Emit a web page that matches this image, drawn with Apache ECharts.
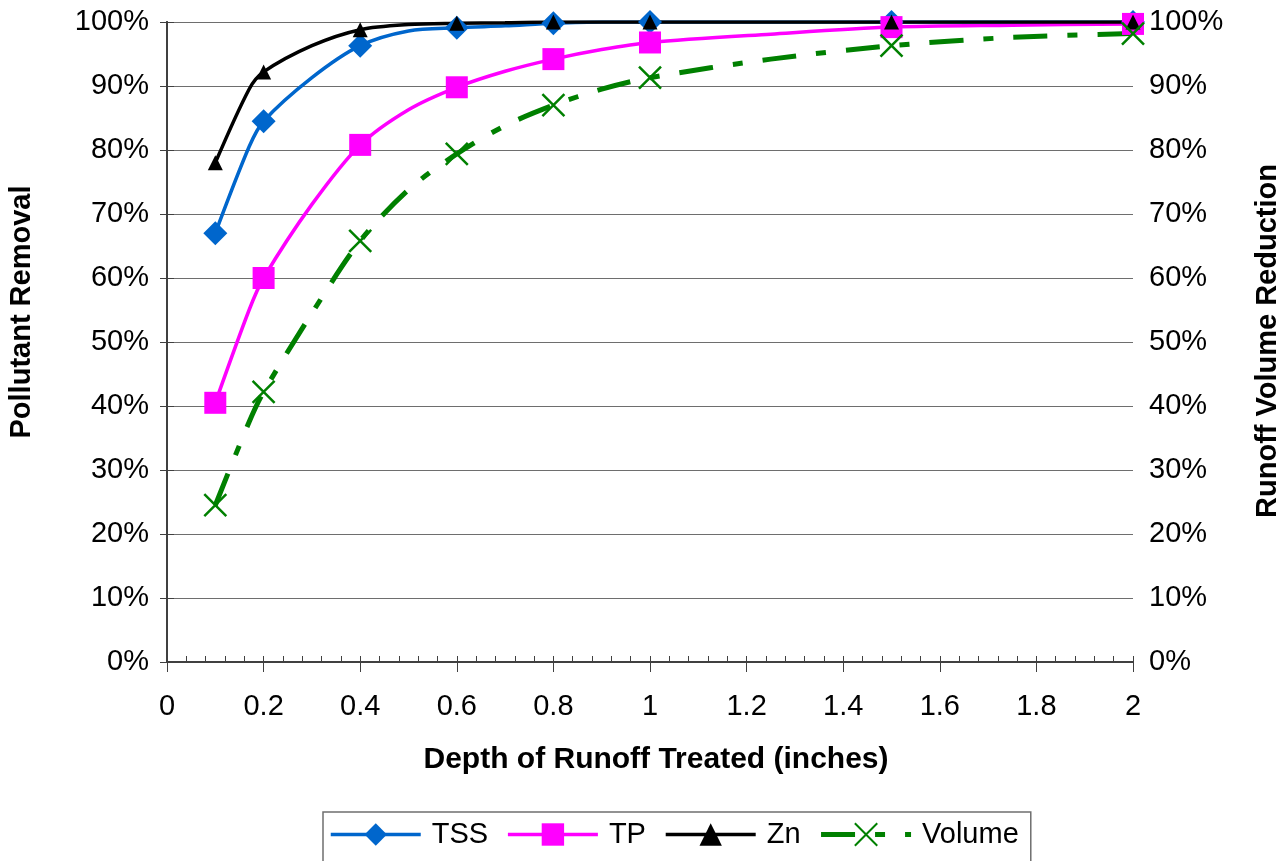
<!DOCTYPE html>
<html>
<head>
<meta charset="utf-8">
<script src="https://cdn.jsdelivr.net/npm/echarts@6/dist/echarts.min.js"></script>
<style>
  html, body { margin: 0; padding: 0; background: #fff; }
  #main { width: 1285px; height: 861px; }
</style>
</head>
<body>
<div id="main"></div>
<script type="text/javascript">
  // depth of runoff treated (inches); markers only at some of them
  var depth = [0.1, 0.17, 0.2, 0.3, 0.4, 0.5, 0.6, 0.7, 0.8, 0.9, 1, 1.25, 1.5, 1.75, 2];
  var markerDepth = [0.1, 0.2, 0.4, 0.6, 0.8, 1, 1.5, 2];

  var tss    = [67, 80.5, 84.5, 91.3, 96.3, 98.6, 99.1, 99.4, 99.8, 100, 100, 100, 100, 100, 100];
  var tp     = [40.5, 55, 60, 71.5, 80.8, 86.3, 89.8, 92.3, 94.2, 95.7, 96.8, 98.1, 99.2, 99.5, 99.7];
  var zn     = [78, 89.5, 92.2, 96.3, 98.8, 99.6, 99.8, 99.9, 100, 100, 100, 100, 100, 100, 100];
  var volume = [24.5, 37.5, 42.2, 54.5, 65.8, 73.8, 79.4, 83.8, 87, 89.5, 91.3, 94.2, 96.3, 97.6, 98.2];

  var xTicks = [0, 0.2, 0.4, 0.6, 0.8, 1, 1.2, 1.4, 1.6, 1.8, 2];

  var font = '"Liberation Sans", Arial, sans-serif';

  function pairs(vals) {
    return depth.map(function (d, i) {
      var item = { value: [d, vals[i]] };
      if (markerDepth.indexOf(d) < 0) item.symbol = 'none';
      return item;
    });
  }

  var chart = echarts.init(document.getElementById('main'));
  var option = {
    animation: false,
    textStyle: { fontFamily: font },
    grid: { left: 167, right: 152, top: 22, bottom: 199, outerBoundsMode: 'none' },
    legend: {
      left: 323,
      top: 812,
      padding: [8, 12, 30, 6],
      itemGap: 18,
      itemWidth: 90,
      itemHeight: 28,
      borderColor: '#6f6f6f',
      borderWidth: 1.5,
      textStyle: { fontSize: 29, color: '#000', fontFamily: font, padding: [0, 0, 0, 6] },
      data: [
        { name: 'TSS', lineStyle: { width: 3.5 } },
        { name: 'TP', lineStyle: { width: 3.5 } },
        { name: 'Zn', lineStyle: { width: 3.5 } },
        { name: 'Volume', lineStyle: { width: 5 } }
      ]
    },
    xAxis: [{
      type: 'value',
      min: 0, max: 2, interval: 0.2,
      axisLine: { lineStyle: { color: '#404040', width: 2 } },
      axisTick: { inside: true, length: 6, lineStyle: { color: '#404040' } },
      minorTick: { show: true, splitNumber: 5, length: 6, lineStyle: { color: '#404040' } },
      splitLine: { show: false },
      axisLabel: {
        fontSize: 29, color: '#000', margin: 30,
        formatter: function (v) { return xTicks.indexOf(v) >= 0 ? String(v) : ''; }
      }
    }, {
      type: 'value',
      position: 'bottom',
      min: 0, max: 2, interval: 0.2,
      axisLine: { show: false },
      axisTick: { length: 10, lineStyle: { color: '#404040' } },
      axisLabel: { show: false },
      splitLine: { show: false }
    }],
    yAxis: [{
      type: 'value',
      min: 0, max: 100, interval: 10,
      axisLine: { show: true, lineStyle: { color: '#404040', width: 2 } },
      axisTick: { show: true, length: 7, lineStyle: { color: '#404040' } },
      splitLine: { lineStyle: { color: '#6e6e6e', width: 1 } },
      axisLabel: { fontSize: 29, color: '#000', margin: 18, formatter: '{value}%' }
    }, {
      type: 'value',
      position: 'right',
      min: 0, max: 100, interval: 10,
      axisLine: { show: true, lineStyle: { color: '#404040', width: 2 } },
      axisTick: { show: true, length: 7, lineStyle: { color: '#404040' } },
      splitLine: { show: false },
      axisLabel: { fontSize: 29, color: '#000', margin: 16, formatter: '{value}%' }
    }],
    graphic: [{
      type: 'text',
      x: 22, y: 312,
      style: {
        text: 'Pollutant Removal', font: 'bold 29px ' + font, fill: '#000',
        align: 'center', verticalAlign: 'middle'
      },
      rotation: Math.PI / 2
    }, {
      type: 'text',
      x: 1268, y: 341,
      style: {
        text: 'Runoff Volume Reduction', font: 'bold 29px ' + font, fill: '#000',
        align: 'center', verticalAlign: 'middle'
      },
      rotation: Math.PI / 2
    }, {
      type: 'text',
      x: 656, y: 760,
      style: {
        text: 'Depth of Runoff Treated (inches)', font: 'bold 30px ' + font, fill: '#000',
        align: 'center', verticalAlign: 'middle'
      }
    }],
    series: [{
      name: 'TSS',
      type: 'line',
      smooth: 0.3,
      data: pairs(tss),
      symbol: 'diamond',
      symbolSize: 24,
      lineStyle: { color: '#0066cc', width: 3.5 },
      itemStyle: { color: '#0066cc' }
    }, {
      name: 'TP',
      type: 'line',
      smooth: 0.3,
      data: pairs(tp),
      symbol: 'rect',
      symbolSize: 22,
      lineStyle: { color: '#ff00ff', width: 3.5 },
      itemStyle: { color: '#ff00ff' }
    }, {
      name: 'Zn',
      type: 'line',
      smooth: 0.3,
      data: pairs(zn),
      symbol: 'triangle',
      symbolSize: 15,
      lineStyle: { color: '#000', width: 3.5 },
      itemStyle: { color: '#000' }
    }, {
      name: 'Volume',
      type: 'line',
      yAxisIndex: 1,
      smooth: 0.3,
      data: pairs(volume),
      symbol: 'path://M0,0L10,10M10,0L0,10',
      symbolSize: 22,
      lineStyle: { color: '#008000', width: 5, type: [34, 20, 10, 20] },
      itemStyle: { color: 'none', borderColor: '#008000', borderWidth: 2.5 }
    }]
  };
  chart.setOption(option);
</script>
</body>
</html>
